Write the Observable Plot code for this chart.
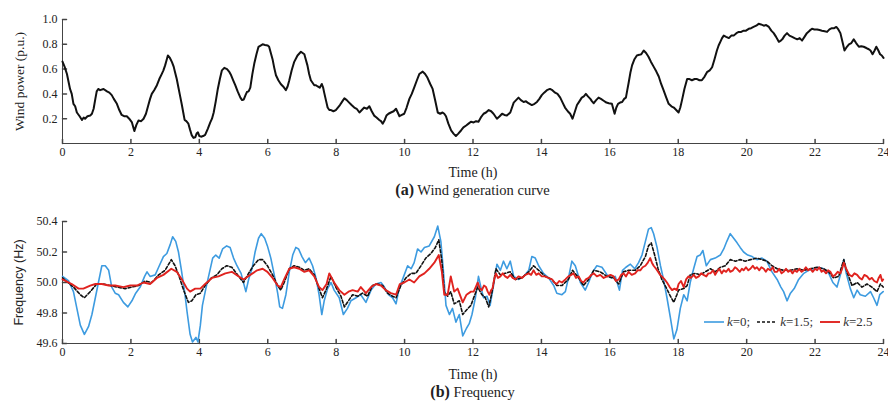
<!DOCTYPE html>
<html>
<head>
<meta charset="utf-8">
<script src="https://cdn.jsdelivr.net/npm/d3@7"></script>
<script src="https://cdn.jsdelivr.net/npm/@observablehq/plot@0.6"></script>
<style>
  body { margin: 0; background: #fff; }
  #wrap { position: relative; width: 888px; }
  .cap { width: 888px; height: 20px; line-height: 20px; box-sizing: border-box; padding-left: 62px; padding-right: 5px;
         text-align: center; font-family: "Liberation Serif", serif; font-size: 14.5px; color: #222; white-space: nowrap; }
  .cap b { font-size: 16px; }
  #legend { position: absolute; left: 704px; top: 314px; display: flex; align-items: center; gap: 3px;
            font-family: "Liberation Serif", serif; font-size: 13px; color: #333; white-space: nowrap; }
  #legend svg { display: block; }
  #legend span { margin-right: 4px; }
</style>
</head>
<body>
<div id="wrap">
  <div id="top"></div>
  <div class="cap"><b>(a)</b> Wind generation curve</div>
  <div id="bottom"></div>
  <div class="cap"><b>(b)</b> Frequency</div>
  <div id="legend">
    <svg width="20" height="10"><line x1="0" y1="5" x2="20" y2="5" stroke="#3d9be0" stroke-width="1.6"/></svg><span><i>k</i>=0;</span>
    <svg width="20" height="10"><line x1="0" y1="5" x2="20" y2="5" stroke="#111" stroke-width="1.6" stroke-dasharray="3,2"/></svg><span><i>k</i>=1.5;</span>
    <svg width="20" height="10"><line x1="0" y1="5" x2="20" y2="5" stroke="#e0231f" stroke-width="1.9"/></svg><span><i>k</i>=2.5</span>
  </div>
</div>
<script>
// Axis ticks and domains
const timeTicks = [0, 2, 4, 6, 8, 10, 12, 14, 16, 18, 20, 22, 24];
const windTicks = [0.2, 0.4, 0.6, 0.8, 1.0];
const freqTicks = [49.6, 49.8, 50.0, 50.2, 50.4];
const windDomain = [0, 1];
const freqDomain = [49.6, 50.4];

// Wind generation over the day: [hour, power (p.u.)]
const wind = [
  [0,0.66],[0.06,0.62],[0.13,0.56],[0.22,0.44],[0.27,0.40],[0.32,0.32],[0.37,0.30],[0.42,0.25],[0.5,0.22],[0.57,0.19],
  [0.62,0.21],[0.66,0.20],[0.73,0.22],[0.81,0.225],[0.86,0.24],[0.91,0.28],[0.96,0.36],[1.0,0.42],[1.05,0.44],[1.1,0.43],
  [1.2,0.44],[1.3,0.42],[1.37,0.41],[1.44,0.39],[1.5,0.36],[1.59,0.32],[1.66,0.27],[1.73,0.23],[1.8,0.22],[1.88,0.22],
  [1.95,0.20],[2.03,0.17],[2.1,0.10],[2.16,0.15],[2.22,0.185],[2.3,0.18],[2.37,0.2],[2.44,0.24],[2.51,0.31],[2.56,0.36],
  [2.61,0.40],[2.68,0.43],[2.76,0.47],[2.83,0.52],[2.9,0.56],[2.95,0.59],[3.0,0.63],[3.04,0.67],[3.08,0.71],[3.14,0.69],
  [3.2,0.656],[3.25,0.62],[3.29,0.575],[3.34,0.52],[3.39,0.45],[3.44,0.38],[3.49,0.31],[3.53,0.25],[3.57,0.19],[3.62,0.18],
  [3.68,0.16],[3.73,0.11],[3.78,0.065],[3.83,0.045],[3.88,0.05],[3.92,0.08],[3.96,0.09],[4.0,0.06],[4.05,0.055],[4.11,0.06],
  [4.17,0.07],[4.25,0.12],[4.32,0.17],[4.37,0.20],[4.42,0.25],[4.48,0.34],[4.54,0.44],[4.6,0.52],[4.66,0.59],[4.73,0.61],
  [4.81,0.60],[4.87,0.58],[4.93,0.55],[4.99,0.51],[5.05,0.47],[5.12,0.42],[5.2,0.37],[5.25,0.35],[5.3,0.355],[5.35,0.39],
  [5.39,0.415],[5.44,0.42],[5.49,0.45],[5.55,0.56],[5.61,0.65],[5.67,0.72],[5.73,0.78],[5.79,0.79],[5.85,0.80],[5.92,0.795],
  [6.0,0.79],[6.04,0.78],[6.09,0.73],[6.14,0.68],[6.19,0.61],[6.24,0.55],[6.31,0.51],[6.38,0.48],[6.45,0.46],[6.53,0.43],
  [6.58,0.46],[6.63,0.51],[6.7,0.59],[6.77,0.656],[6.87,0.71],[6.97,0.74],[7.07,0.72],[7.11,0.68],[7.16,0.63],[7.21,0.56],
  [7.26,0.51],[7.31,0.49],[7.36,0.47],[7.41,0.47],[7.46,0.46],[7.52,0.45],[7.58,0.48],[7.62,0.45],[7.65,0.41],[7.7,0.35],
  [7.75,0.29],[7.8,0.27],[7.85,0.27],[7.92,0.26],[7.99,0.27],[8.05,0.29],[8.11,0.31],[8.18,0.34],[8.24,0.365],[8.31,0.35],
  [8.38,0.33],[8.45,0.31],[8.53,0.29],[8.6,0.28],[8.68,0.25],[8.75,0.27],[8.82,0.29],[8.9,0.28],[8.97,0.30],[9.04,0.26],
  [9.11,0.225],[9.18,0.21],[9.26,0.19],[9.31,0.18],[9.36,0.16],[9.42,0.19],[9.47,0.225],[9.53,0.24],[9.6,0.25],[9.68,0.26],
  [9.75,0.28],[9.8,0.25],[9.85,0.22],[9.92,0.23],[9.99,0.24],[10.06,0.29],[10.14,0.36],[10.21,0.40],[10.28,0.45],[10.36,0.51],
  [10.43,0.56],[10.53,0.58],[10.6,0.56],[10.67,0.53],[10.75,0.48],[10.82,0.44],[10.9,0.34],[10.97,0.25],[11.04,0.24],[11.11,0.25],
  [11.16,0.24],[11.21,0.22],[11.28,0.16],[11.36,0.105],[11.43,0.08],[11.5,0.06],[11.57,0.08],[11.65,0.105],[11.72,0.13],[11.8,0.145],
  [11.87,0.16],[11.94,0.175],[12.02,0.17],[12.09,0.18],[12.16,0.175],[12.23,0.21],[12.31,0.24],[12.38,0.25],[12.46,0.27],[12.53,0.26],
  [12.6,0.24],[12.7,0.20],[12.78,0.22],[12.85,0.24],[12.92,0.23],[12.99,0.225],[13.09,0.25],[13.19,0.33],[13.26,0.35],[13.33,0.37],
  [13.4,0.35],[13.48,0.335],[13.55,0.34],[13.62,0.325],[13.72,0.31],[13.8,0.32],[13.87,0.335],[13.94,0.36],[14.01,0.39],[14.08,0.41],
  [14.16,0.43],[14.25,0.44],[14.32,0.43],[14.4,0.41],[14.47,0.40],[14.55,0.37],[14.62,0.33],[14.69,0.29],[14.77,0.26],[14.84,0.24],
  [14.91,0.20],[14.97,0.25],[15.04,0.31],[15.11,0.34],[15.18,0.37],[15.24,0.38],[15.3,0.40],[15.36,0.38],[15.43,0.36],[15.48,0.34],
  [15.53,0.325],[15.6,0.35],[15.67,0.37],[15.74,0.36],[15.82,0.345],[15.9,0.33],[15.97,0.325],[16.06,0.32],[16.1,0.28],[16.14,0.24],
  [16.19,0.29],[16.24,0.32],[16.3,0.33],[16.36,0.335],[16.42,0.36],[16.47,0.37],[16.51,0.43],[16.55,0.49],[16.6,0.57],[16.65,0.63],
  [16.72,0.68],[16.79,0.71],[16.86,0.715],[16.92,0.72],[16.99,0.75],[17.06,0.73],[17.13,0.70],[17.2,0.66],[17.28,0.62],[17.36,0.58],
  [17.43,0.54],[17.5,0.48],[17.57,0.43],[17.65,0.37],[17.72,0.32],[17.8,0.30],[17.87,0.29],[17.94,0.27],[18.01,0.25],[18.06,0.29],
  [18.11,0.35],[18.18,0.44],[18.26,0.52],[18.33,0.52],[18.4,0.51],[18.48,0.52],[18.55,0.52],[18.62,0.51],[18.69,0.51],[18.77,0.54],
  [18.84,0.575],[18.92,0.59],[18.99,0.615],[19.06,0.68],[19.13,0.75],[19.18,0.79],[19.23,0.82],[19.28,0.85],[19.33,0.87],[19.4,0.86],
  [19.48,0.85],[19.55,0.87],[19.62,0.87],[19.7,0.89],[19.77,0.90],[19.84,0.90],[19.91,0.91],[19.98,0.91],[20.06,0.925],[20.13,0.93],
  [20.2,0.94],[20.28,0.95],[20.35,0.965],[20.42,0.96],[20.5,0.95],[20.57,0.955],[20.65,0.94],[20.72,0.91],[20.79,0.89],[20.86,0.86],
  [20.94,0.82],[21.0,0.83],[21.04,0.84],[21.11,0.87],[21.18,0.89],[21.25,0.87],[21.33,0.86],[21.4,0.85],[21.48,0.84],[21.55,0.85],
  [21.62,0.83],[21.69,0.86],[21.76,0.89],[21.84,0.91],[21.91,0.925],[21.98,0.92],[22.06,0.92],[22.13,0.915],[22.2,0.91],[22.28,0.905],
  [22.35,0.90],[22.42,0.92],[22.49,0.93],[22.56,0.93],[22.62,0.94],[22.68,0.92],[22.74,0.89],[22.8,0.82],[22.86,0.75],[22.93,0.78],
  [22.99,0.80],[23.06,0.81],[23.13,0.84],[23.2,0.81],[23.28,0.78],[23.35,0.785],[23.42,0.78],[23.5,0.77],[23.57,0.76],[23.62,0.75],
  [23.68,0.72],[23.74,0.75],[23.79,0.78],[23.85,0.75],[23.9,0.72],[23.95,0.71],[24.0,0.69]
];

// System frequency, k = 0: [hour, Hz]
const freqK0 = [
  [0,50.04],[0.18,50.01],[0.32,49.94],[0.42,49.83],[0.52,49.72],[0.64,49.66],[0.76,49.71],[0.86,49.79],[0.96,49.90],[1.05,50.0],
  [1.15,50.11],[1.25,50.11],[1.35,50.08],[1.44,49.97],[1.54,49.93],[1.64,49.92],[1.78,49.87],[1.91,49.84],[2.03,49.88],[2.14,49.93],
  [2.27,49.97],[2.4,50.04],[2.47,50.07],[2.56,50.04],[2.71,50.05],[2.81,50.10],[2.95,50.17],[3.05,50.19],[3.15,50.25],[3.22,50.30],
  [3.31,50.27],[3.39,50.2],[3.47,50.09],[3.57,49.94],[3.64,49.81],[3.73,49.66],[3.8,49.61],[3.9,49.64],[3.96,49.61],[4.03,49.72],
  [4.09,49.85],[4.19,49.96],[4.29,50.06],[4.39,50.16],[4.48,50.18],[4.58,50.16],[4.68,50.22],[4.8,50.24],[4.9,50.23],[5.0,50.16],
  [5.1,50.11],[5.22,50.06],[5.29,50.0],[5.36,49.94],[5.44,50.02],[5.54,50.09],[5.63,50.2],[5.73,50.29],[5.81,50.32],[5.91,50.29],
  [5.99,50.24],[6.09,50.16],[6.19,50.05],[6.29,49.93],[6.35,49.84],[6.43,49.83],[6.53,49.92],[6.63,50.07],[6.73,50.18],[6.82,50.23],
  [6.9,50.22],[7.0,50.17],[7.1,50.13],[7.21,50.16],[7.31,50.11],[7.41,50.03],[7.5,49.92],[7.58,49.79],[7.65,49.88],[7.75,49.96],
  [7.85,50.0],[7.94,49.95],[8.09,49.90],[8.21,49.79],[8.33,49.83],[8.43,49.88],[8.58,49.90],[8.72,49.92],[8.87,49.87],[9.02,49.95],
  [9.16,49.99],[9.31,50.0],[9.41,49.97],[9.53,49.92],[9.65,49.90],[9.75,49.86],[9.84,49.96],[9.99,50.05],[10.09,50.11],[10.19,50.09],
  [10.28,50.13],[10.38,50.22],[10.48,50.20],[10.58,50.23],[10.72,50.24],[10.87,50.30],[10.97,50.37],[11.06,50.27],[11.13,50.09],[11.21,49.85],
  [11.31,49.79],[11.4,49.83],[11.5,49.74],[11.6,49.79],[11.7,49.65],[11.81,49.70],[11.89,49.73],[11.97,49.79],[12.07,49.90],[12.16,50.04],
  [12.24,49.96],[12.31,49.90],[12.41,49.91],[12.5,49.85],[12.6,49.98],[12.7,50.12],[12.8,50.08],[12.89,50.14],[12.99,50.09],[13.09,50.14],
  [13.19,50.04],[13.33,50.02],[13.48,50.04],[13.63,50.08],[13.72,50.17],[13.82,50.16],[13.92,50.11],[14.06,50.06],[14.21,50.03],[14.36,49.98],
  [14.45,49.93],[14.6,49.92],[14.7,49.94],[14.79,50.03],[14.89,50.14],[14.99,50.11],[15.14,50.0],[15.28,49.95],[15.38,50.0],[15.5,50.07],
  [15.62,50.11],[15.77,50.10],[15.92,50.05],[16.04,50.03],[16.16,50.04],[16.28,49.95],[16.37,50.08],[16.47,50.10],[16.6,50.12],[16.73,50.09],
  [16.84,50.13],[16.94,50.18],[17.04,50.27],[17.13,50.35],[17.21,50.36],[17.28,50.32],[17.38,50.23],[17.48,50.11],[17.57,50.02],[17.67,49.90],
  [17.77,49.77],[17.87,49.63],[17.96,49.69],[18.06,49.83],[18.16,49.92],[18.26,49.88],[18.35,50.0],[18.45,50.09],[18.55,50.17],[18.64,50.18],
  [18.72,50.21],[18.82,50.11],[18.94,50.15],[19.08,50.16],[19.23,50.18],[19.33,50.22],[19.42,50.27],[19.52,50.32],[19.62,50.29],[19.72,50.26],
  [19.81,50.23],[19.91,50.20],[20.03,50.18],[20.16,50.17],[20.3,50.15],[20.45,50.16],[20.59,50.14],[20.74,50.07],[20.89,50.02],[21.0,49.97],
  [21.08,49.94],[21.18,49.88],[21.28,49.93],[21.39,49.96],[21.52,50.02],[21.67,50.06],[21.81,50.08],[21.96,50.09],[22.1,50.10],[22.25,50.09],
  [22.4,50.06],[22.52,50.0],[22.64,49.97],[22.74,50.05],[22.84,50.15],[22.91,50.06],[23.03,49.96],[23.13,49.90],[23.23,49.95],[23.32,49.92],
  [23.47,49.91],[23.62,49.94],[23.71,49.90],[23.81,49.85],[23.89,49.92],[23.99,49.94]
];

// System frequency, k = 1.5: [hour, Hz]
const freqK15 = [
  [0,50.03],[0.32,49.97],[0.52,49.92],[0.64,49.90],[0.81,49.94],[1.0,49.99],[1.2,49.99],[1.39,49.98],[1.59,49.97],[1.83,49.96],
  [2.03,49.97],[2.22,49.98],[2.42,50.01],[2.61,50.0],[2.81,50.05],[3.0,50.08],[3.18,50.15],[3.29,50.11],[3.41,50.04],[3.54,49.95],
  [3.68,49.87],[3.78,49.88],[3.9,49.92],[4.03,49.93],[4.17,49.98],[4.35,50.03],[4.51,50.05],[4.66,50.09],[4.8,50.11],[4.95,50.10],
  [5.15,50.04],[5.29,50.0],[5.44,50.06],[5.58,50.11],[5.73,50.15],[5.85,50.15],[5.99,50.11],[6.14,50.05],[6.29,49.98],[6.38,49.95],
  [6.48,50.0],[6.63,50.09],[6.77,50.11],[6.92,50.10],[7.07,50.08],[7.21,50.09],[7.36,50.05],[7.5,49.96],[7.6,49.90],[7.72,49.96],
  [7.85,50.04],[7.99,49.97],[8.14,49.91],[8.24,49.84],[8.36,49.88],[8.48,49.92],[8.63,49.91],[8.77,49.93],[8.92,49.91],[9.06,49.98],
  [9.21,49.99],[9.36,49.98],[9.5,49.93],[9.65,49.91],[9.75,49.90],[9.89,49.98],[10.04,50.03],[10.19,50.06],[10.33,50.06],[10.48,50.11],
  [10.62,50.16],[10.77,50.19],[10.9,50.23],[11.0,50.28],[11.09,50.14],[11.16,49.94],[11.26,49.91],[11.35,49.94],[11.45,49.86],[11.6,49.88],
  [11.7,49.79],[11.81,49.82],[11.94,49.85],[12.02,49.90],[12.14,49.97],[12.26,49.92],[12.36,49.90],[12.46,49.84],[12.55,49.93],[12.67,50.09],
  [12.8,50.05],[12.94,50.06],[13.09,50.07],[13.24,50.02],[13.43,50.03],[13.63,50.07],[13.77,50.11],[13.92,50.08],[14.11,50.04],[14.31,50.02],
  [14.45,49.98],[14.6,49.98],[14.79,50.02],[14.91,50.08],[15.09,50.03],[15.23,49.98],[15.38,50.02],[15.53,50.08],[15.72,50.07],[15.92,50.04],
  [16.11,50.03],[16.26,49.99],[16.4,50.07],[16.55,50.08],[16.74,50.08],[16.89,50.11],[17.04,50.17],[17.13,50.24],[17.21,50.26],[17.31,50.18],
  [17.41,50.09],[17.52,50.02],[17.64,49.97],[17.77,49.91],[17.87,49.87],[17.96,49.92],[18.01,49.95],[18.16,49.96],[18.26,49.98],[18.35,50.05],
  [18.5,50.06],[18.64,50.05],[18.79,50.07],[18.94,50.09],[19.08,50.07],[19.23,50.10],[19.38,50.11],[19.52,50.15],[19.67,50.14],[19.81,50.15],
  [19.96,50.14],[20.11,50.15],[20.3,50.16],[20.45,50.15],[20.59,50.14],[20.74,50.11],[20.89,50.09],[21.08,50.08],[21.28,50.08],[21.47,50.09],
  [21.67,50.08],[21.86,50.09],[22.06,50.10],[22.25,50.09],[22.4,50.07],[22.54,50.03],[22.69,50.04],[22.84,50.15],[22.93,50.07],[23.08,49.98],
  [23.23,50.0],[23.37,49.97],[23.52,49.99],[23.66,49.97],[23.81,49.94],[23.91,49.99],[23.99,49.97]
];

// System frequency, k = 2.5: [hour, Hz]
const freqK25 = [
  [0,50.02],[0.27,49.99],[0.47,49.96],[0.61,49.96],[0.81,49.98],[0.96,49.99],[1.15,49.99],[1.35,49.98],[1.54,49.98],[1.78,49.97],
  [1.98,49.98],[2.17,49.98],[2.37,50.0],[2.56,49.99],[2.76,50.03],[2.95,50.05],[3.18,50.09],[3.34,50.07],[3.49,50.02],[3.64,49.96],
  [3.73,49.94],[3.88,49.96],[4.03,49.96],[4.17,49.99],[4.37,50.03],[4.56,50.04],[4.76,50.06],[4.95,50.07],[5.15,50.04],[5.29,50.02],
  [5.49,50.05],[5.69,50.08],[5.85,50.09],[5.99,50.07],[6.14,50.03],[6.29,49.98],[6.38,49.97],[6.48,50.02],[6.63,50.09],[6.77,50.10],
  [6.92,50.09],[7.07,50.07],[7.21,50.08],[7.36,50.04],[7.5,49.97],[7.6,49.95],[7.72,49.99],[7.8,50.06],[7.94,50.0],[8.09,49.95],
  [8.24,49.92],[8.36,49.94],[8.48,49.95],[8.63,49.94],[8.72,49.97],[8.87,49.93],[9.02,49.97],[9.16,49.99],[9.31,49.98],[9.45,49.95],
  [9.6,49.93],[9.75,49.92],[9.86,49.99],[9.99,50.0],[10.14,50.02],[10.28,50.0],[10.43,50.04],[10.58,50.06],[10.72,50.09],[10.87,50.13],
  [11.0,50.18],[11.09,50.07],[11.16,49.92],[11.26,49.92],[11.35,50.04],[11.45,49.94],[11.55,49.96],[11.7,49.87],[11.81,49.92],[11.94,49.94],
  [12.02,49.94],[12.08,49.97],[12.14,50.0],[12.2,49.96],[12.26,49.95],[12.32,49.98],[12.38,49.97],[12.43,49.94],[12.48,49.92],[12.53,49.95],
  [12.57,49.96],[12.62,50.02],[12.67,50.06],[12.73,50.03],[12.8,50.04],[12.87,50.06],[12.94,50.04],[13.01,50.03],[13.09,50.05],[13.16,50.03],
  [13.24,50.02],[13.33,50.04],[13.43,50.03],[13.53,50.05],[13.63,50.06],[13.7,50.05],[13.77,50.08],[13.85,50.05],[13.92,50.06],[14.01,50.04],
  [14.11,50.04],[14.2,50.03],[14.31,50.02],[14.38,50.0],[14.45,49.99],[14.52,50.01],[14.6,50.0],[14.7,50.02],[14.79,50.04],[14.87,50.05],
  [14.94,50.06],[15.01,50.03],[15.09,50.04],[15.16,50.01],[15.23,50.0],[15.3,50.02],[15.38,50.03],[15.46,50.05],[15.53,50.06],[15.62,50.04],
  [15.72,50.05],[15.82,50.03],[15.92,50.04],[16.02,50.05],[16.11,50.04],[16.18,50.01],[16.26,50.02],[16.33,50.05],[16.4,50.06],[16.47,50.04],
  [16.55,50.07],[16.64,50.05],[16.74,50.06],[16.81,50.08],[16.89,50.08],[16.96,50.1],[17.04,50.11],[17.11,50.13],[17.18,50.16],[17.23,50.13],
  [17.28,50.11],[17.35,50.09],[17.41,50.07],[17.47,50.05],[17.52,50.04],[17.6,50.02],[17.67,50.0],[17.75,49.97],[17.82,49.95],[17.89,49.96],
  [17.96,49.95],[18.01,49.99],[18.08,50.01],[18.16,49.97],[18.23,50.02],[18.3,50.04],[18.37,50.03],[18.45,50.05],[18.52,50.03],[18.6,50.04],
  [18.67,50.06],[18.74,50.05],[18.82,50.04],[18.88,50.06],[18.94,50.06],[19.02,50.08],[19.08,50.05],[19.13,50.07],[19.2,50.09],[19.27,50.06],
  [19.33,50.08],[19.4,50.07],[19.47,50.09],[19.52,50.07],[19.6,50.08],[19.66,50.10],[19.72,50.09],[19.8,50.07],[19.86,50.09],[19.91,50.08],
  [19.98,50.10],[20.05,50.08],[20.11,50.09],[20.18,50.11],[20.24,50.09],[20.3,50.10],[20.37,50.08],[20.43,50.10],[20.5,50.09],[20.56,50.07],
  [20.62,50.09],[20.69,50.08],[20.76,50.10],[20.82,50.07],[20.89,50.07],[20.95,50.09],[21.02,50.06],[21.08,50.07],[21.15,50.09],[21.21,50.07],
  [21.28,50.08],[21.34,50.06],[21.4,50.08],[21.47,50.07],[21.54,50.09],[21.6,50.07],[21.67,50.08],[21.73,50.10],[21.8,50.08],[21.86,50.09],
  [21.93,50.07],[22.0,50.09],[22.06,50.08],[22.12,50.10],[22.19,50.07],[22.25,50.08],[22.32,50.06],[22.38,50.08],[22.45,50.07],[22.52,50.04],
  [22.59,50.05],[22.66,50.07],[22.74,50.06],[22.79,50.09],[22.84,50.13],[22.89,50.10],[22.93,50.08],[23.0,50.05],[23.08,50.04],[23.15,50.06],
  [23.23,50.05],[23.3,50.03],[23.37,50.02],[23.44,50.05],[23.52,50.04],[23.59,50.02],[23.66,50.03],[23.73,50.01],[23.81,50.0],[23.86,50.03],
  [23.91,50.05],[23.96,50.01],[23.99,50.02]
];

const SERIF = '"Liberation Serif", "Times New Roman", serif';
const SANS = '"Liberation Sans", Arial, sans-serif';
const AXIS = "#444";
const fmt1 = d3.format(".1f");

// Short tick that points into the plot area
const inward = { draw(ctx, l) { ctx.moveTo(0, 0); ctx.lineTo(0, -l); } };

// Left and bottom axis lines, inward ticks, tick labels and titles
function axesFor(yDomain, yTicks, yLabel, xLabelOffset) {
  return [
    Plot.ruleX([0], { stroke: AXIS, strokeWidth: 1 }),
    Plot.ruleY([yDomain[0]], { stroke: AXIS, strokeWidth: 1 }),
    Plot.vector(timeTicks, { x: d => d, frameAnchor: "bottom", length: 4, rotate: 0, anchor: "start", shape: inward, stroke: AXIS }),
    Plot.vector(yTicks, { y: d => d, frameAnchor: "left", length: 4, rotate: 90, anchor: "start", shape: inward, stroke: AXIS }),
    Plot.axisX(timeTicks, { tickSize: 0, tickPadding: 4, label: "Time (h)", labelAnchor: "center", labelArrow: "none", labelOffset: xLabelOffset }),
    Plot.axisY(yTicks, { tickSize: 0, tickPadding: 5, tickFormat: fmt1, label: yLabel, labelAnchor: "center", labelArrow: "none", labelOffset: 48 })
  ];
}

function styleLabels(svg, yFamily, ySize) {
  const xl = svg.querySelector('[aria-label="x-axis label"]');
  if (xl) {
    xl.setAttribute("font-size", "14");
    xl.querySelectorAll("text").forEach(t => t.setAttribute("font-size", "14"));
  }
  const yl = svg.querySelector('[aria-label="y-axis label"]');
  if (yl) {
    yl.setAttribute("font-size", ySize);
    yl.setAttribute("font-family", yFamily);
    yl.querySelectorAll("text").forEach(t => { t.setAttribute("font-size", ySize); t.setAttribute("font-family", yFamily); });
  }
  return svg;
}

const topChart = Plot.plot({
  width: 888, height: 180,
  marginTop: 19, marginBottom: 37, marginLeft: 62, marginRight: 5,
  style: { fontFamily: SERIF, fontSize: "12px", color: "#222", background: "white", overflow: "visible" },
  x: { domain: [0, 24] },
  y: { domain: windDomain },
  marks: [
    ...axesFor(windDomain, windTicks, "Wind power (p.u.)", 33),
    Plot.line(wind, { x: d => d[0], y: d => d[1], stroke: "#111", strokeWidth: 2 })
  ]
});
document.getElementById("top").appendChild(styleLabels(topChart, SERIF, "13.5"));

const bottomChart = Plot.plot({
  width: 888, height: 182,
  marginTop: 21, marginBottom: 39, marginLeft: 62, marginRight: 5,
  style: { fontFamily: SERIF, fontSize: "12px", color: "#222", background: "white", overflow: "visible" },
  x: { domain: [0, 24] },
  y: { domain: freqDomain },
  marks: [
    ...axesFor(freqDomain, freqTicks, "Frequency (Hz)", 35),
    Plot.line(freqK0, { x: d => d[0], y: d => d[1], stroke: "#3d9be0", strokeWidth: 1.6 }),
    Plot.line(freqK15, { x: d => d[0], y: d => d[1], stroke: "#111", strokeWidth: 1.6, strokeDasharray: "3,2" }),
    Plot.line(freqK25, { x: d => d[0], y: d => d[1], stroke: "#e0231f", strokeWidth: 1.9 })
  ]
});
document.getElementById("bottom").appendChild(styleLabels(bottomChart, SANS, "12.5"));
</script>
</body>
</html>
